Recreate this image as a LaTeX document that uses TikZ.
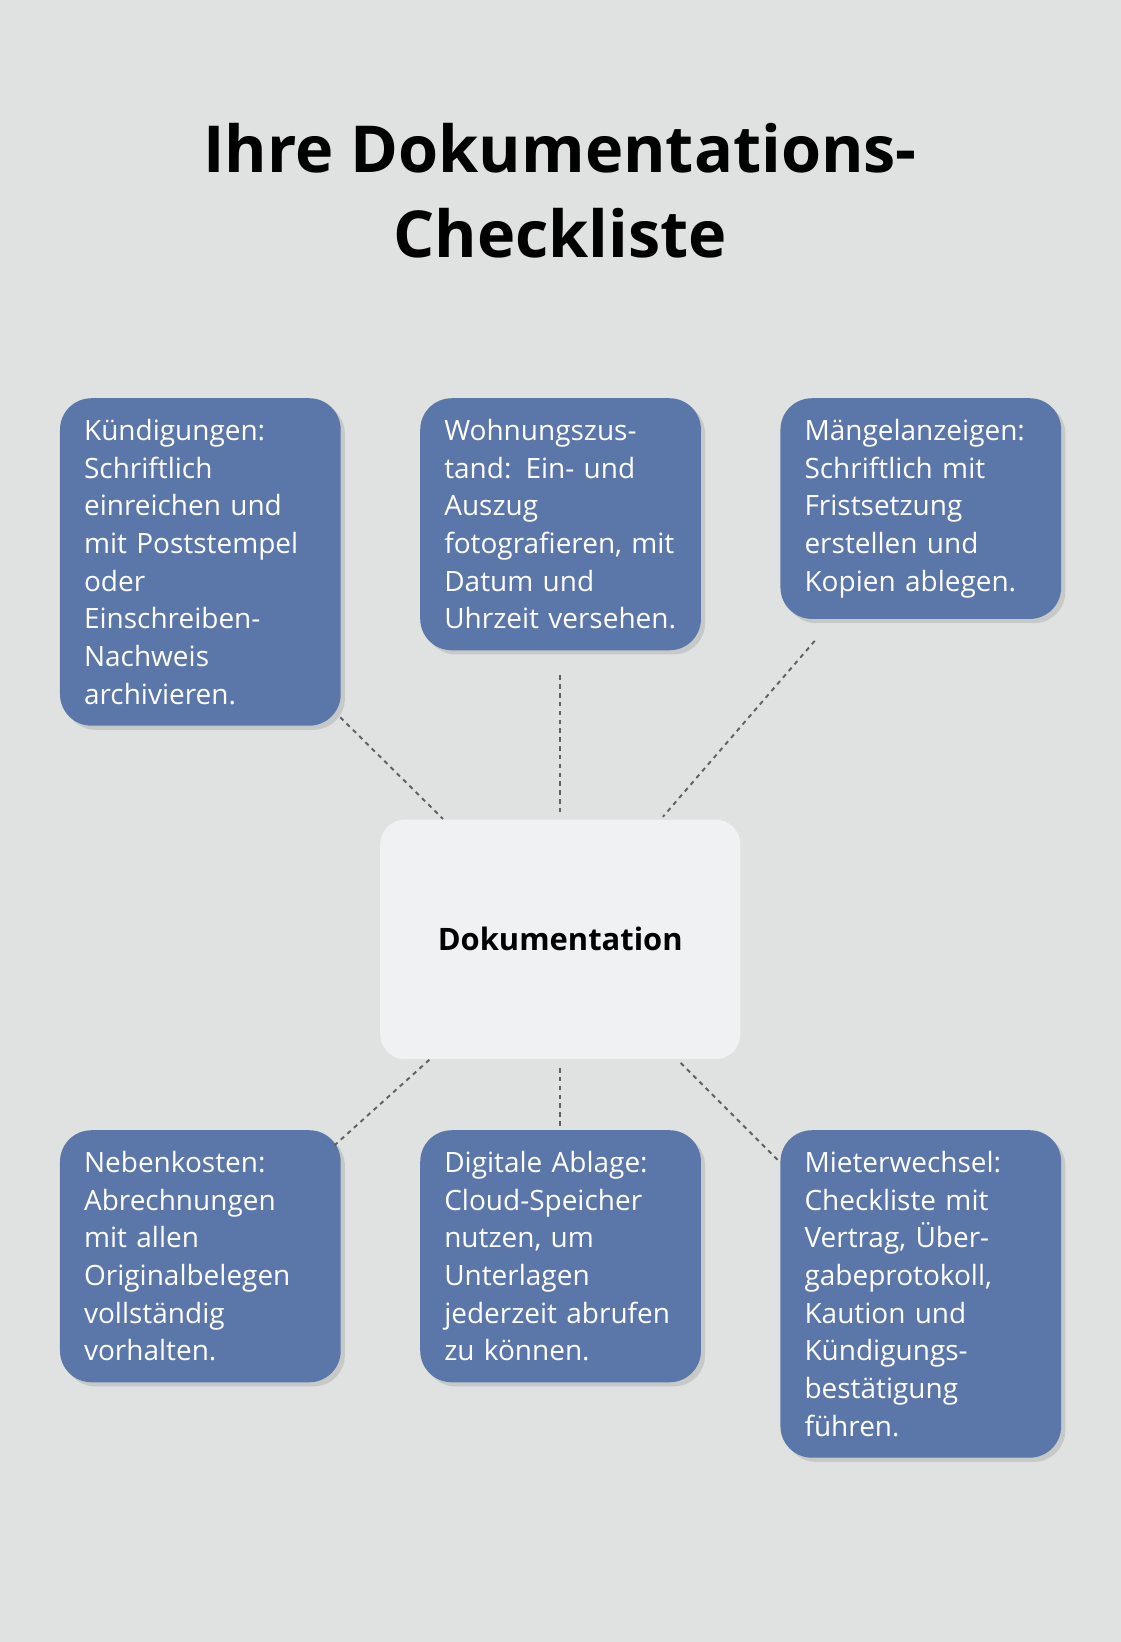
\documentclass[tikz,border=0pt]{standalone}
\usepackage{fontspec}
\setmainfont{Open Sans}
\usetikzlibrary{positioning,shadows}
\definecolor{bgcol}{HTML}{E0E2E1}
\definecolor{boxcol}{HTML}{5B76A8}
\definecolor{hubcol}{HTML}{EFF1F3}
\definecolor{linecol}{HTML}{606060}
\begin{document}
\begin{tikzpicture}[x=0.025cm,y=-0.025cm,
  item/.style={draw=none,fill=boxcol,text=white,rounded corners=0.75cm,
    anchor=north west,align=left,text width=5.55cm,inner xsep=0.575cm,
    inner ysep=0.5cm,font=\fontsize{19}{25.6}\selectfont,
    drop shadow={shadow xshift=0.1cm,shadow yshift=-0.1cm,opacity=0.25}},
  link/.style={draw=linecol,line width=1.3pt,dash pattern=on 3pt off 3pt}]
\fill[bgcol] (0,0) rectangle (1070,1568);
\useasboundingbox (0,0) rectangle (1070,1568);
\node[font=\fontsize{44}{58}\selectfont\bfseries,align=center] (title) at (535,182)
  {Ihre Dokumentations-\\Checkliste};
\node[fill=hubcol,rounded corners=0.6cm,minimum width=8.6cm,minimum height=5.72cm,
  font=\fontsize{21}{26}\selectfont\bfseries] (hub) at (535,897) {Dokumentation};
\node[item] (kuend) at (57,380) {Kündigungen:\\Schriftlich\\einreichen und\\mit Poststempel\\oder\\Einschreiben-\\Nachweis\\archivieren.};
\node[item] (wohn) at (401,380) {Wohnungszus-\\tand: Ein- und\\Auszug\\fotografieren, mit\\Datum und\\Uhrzeit versehen.};
\node[item] (maengel) at (745,380) {Mängelanzeigen:\\Schriftlich mit\\Fristsetzung\\erstellen und\\Kopien ablegen.};
\node[item] (neben) at (57,1079) {Nebenkosten:\\Abrechnungen\\mit allen\\Originalbelegen\\vollständig\\vorhalten.};
\node[item] (ablage) at (401,1079) {Digitale Ablage:\\Cloud-Speicher\\nutzen, um\\Unterlagen\\jederzeit abrufen\\zu können.};
\node[item] (mieter) at (745,1079) {Mieterwechsel:\\Checkliste mit\\Vertrag, Über-\\gabeprotokoll,\\Kaution und\\Kündigungs-\\bestätigung\\führen.};
% connector end points
\coordinate (h1) at (423,782); \coordinate (k1) at (325,685);
\coordinate (h2) at (535,778); \coordinate (w1) at (535,645);
\coordinate (h3) at (633,780); \coordinate (m1) at (778,612);
\coordinate (h4) at (410,1012); \coordinate (n1) at (318,1095);
\coordinate (h5) at (535,1020); \coordinate (a1) at (535,1075);
\coordinate (h6) at (650,1015); \coordinate (r1) at (745,1110);
\draw[link] (k1) -- (h1);
\draw[link] (w1) -- (h2);
\draw[link] (m1) -- (h3);
\draw[link] (h4) -- (n1);
\draw[link] (h5) -- (a1);
\draw[link] (h6) -- (r1);
\end{tikzpicture}
\end{document}
